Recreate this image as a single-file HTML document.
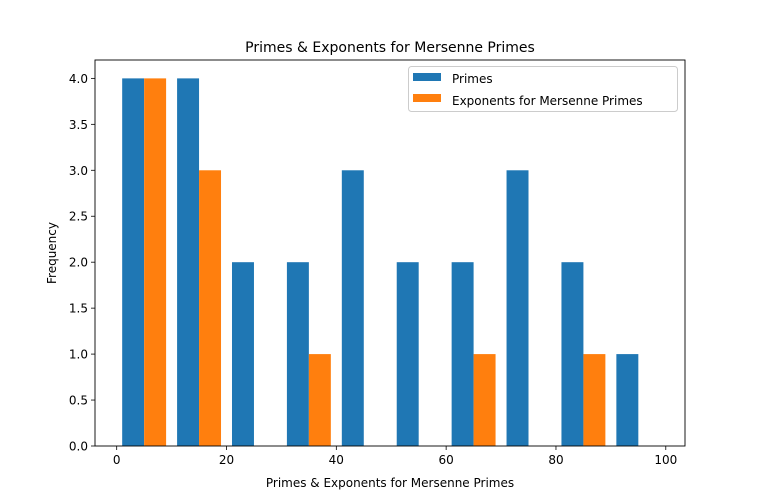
<!DOCTYPE html>
<html><head><meta charset="utf-8"><style>
body{margin:0;background:#fff}
svg{display:block;font-family:"DejaVu Sans","Liberation Sans",sans-serif}
</style></head><body>
<svg id="chart" width="761" height="501" viewBox="0 0 761 501">
<rect width="761" height="501" fill="#fff"/>
<text x="390" y="52" font-size="14" text-anchor="middle" fill="#000">Primes &amp; Exponents for Mersenne Primes</text>
<g id="bars"></g>
<g id="axes"></g>
<rect x="95" y="60" width="590" height="386" fill="none" stroke="#000" stroke-width="0.9"/>
<text x="390" y="487" font-size="12" text-anchor="middle">Primes &amp; Exponents for Mersenne Primes</text>
<text x="0" y="0" font-size="12" text-anchor="middle" transform="translate(56,253) rotate(-90)">Frequency</text>
<g>
<rect x="408.5" y="66.5" width="269" height="45" rx="3" fill="#fff" fill-opacity="0.8" stroke="#ccc"/>
<rect x="413" y="73" width="28" height="8" fill="#1f77b4"/>
<text x="452" y="83" font-size="12">Primes</text>
<rect x="413" y="94" width="28" height="8" fill="#ff7f0e"/>
<text x="452" y="105" font-size="12">Exponents for Mersenne Primes</text>
</g>
</svg>
<script>
const binEdges = [0,10,20,30,40,50,60,70,80,90,100];
const primesCounts = [4,4,2,2,3,2,2,3,2,1];
const exponentsCounts = [4,3,0,1,0,0,1,0,1,0];
const xTicks = [0,20,40,60,80,100];
const yTicks = [0,0.5,1,1.5,2,2.5,3,3.5,4];
const NS="http://www.w3.org/2000/svg";
const L=95,R=685,T=60,B=446, xmin=-3.95, xmax=103.5, ymax=4.2;
const xs=v=>L+(v-xmin)/(xmax-xmin)*(R-L);
const ys=v=>B-v/ymax*(B-T);
const bars=document.getElementById('bars'), axes=document.getElementById('axes');
function mk(tag,attrs,parent){const e=document.createElementNS(NS,tag);for(const k in attrs)e.setAttribute(k,attrs[k]);parent.appendChild(e);return e;}
for(let i=0;i<binEdges.length-1;i++){
  const w=binEdges[i+1]-binEdges[i], bw=0.8*w/2, s=binEdges[i]+0.1*w;
  const series=[[primesCounts[i],'#1f77b4','bar-primes-'+i],[exponentsCounts[i],'#ff7f0e','bar-exponents-'+i]];
  series.forEach((sv,j)=>{
    const x0=xs(s+j*bw), x1=xs(s+(j+1)*bw);
    const r=mk('rect',{x:x0,y:ys(sv[0]),width:x1-x0,height:ys(0)-ys(sv[0]),fill:sv[1]},bars);
    
    
  });
}
xTicks.forEach(t=>{
  const x=xs(t);
  const l=mk('line',{x1:x,x2:x,y1:B,y2:B+4,stroke:'#000','stroke-width':0.8},axes);
  
  
  const tx=mk('text',{x:x,y:B+18,'font-size':12,'text-anchor':'middle'},axes);
  tx.textContent=t;
  
  
});
yTicks.forEach(t=>{
  const y=ys(t);
  const l=mk('line',{x1:L-4,x2:L,y1:y,y2:y,stroke:'#000','stroke-width':0.8},axes);
  
  
  const tx=mk('text',{x:L-7,y:y+4.5,'font-size':12,'text-anchor':'end'},axes);
  tx.textContent=t.toFixed(1);
  
  
});
</script>
</body></html>
